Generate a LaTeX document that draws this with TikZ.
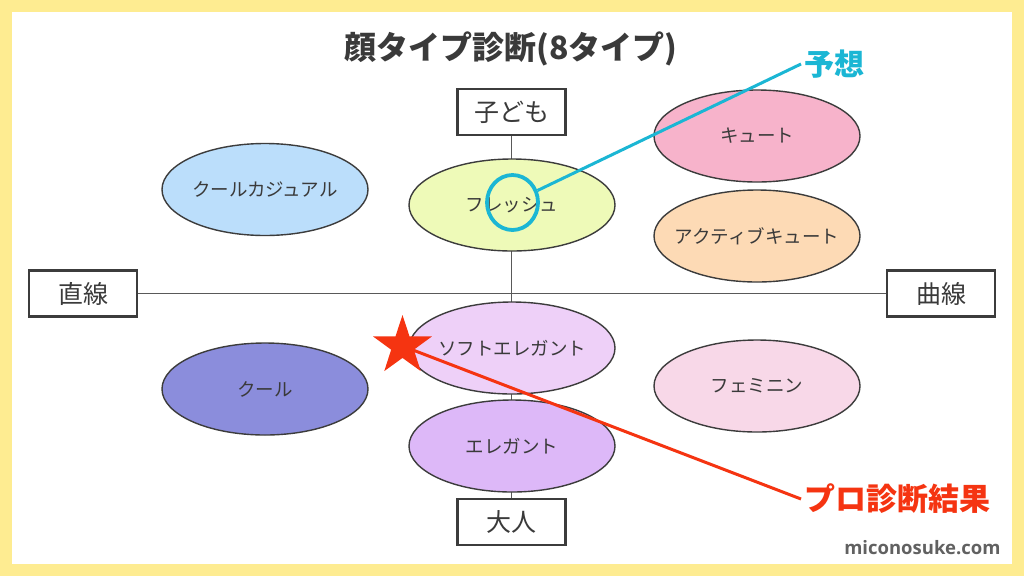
\documentclass[tikz,border=0pt]{standalone}
\usepackage{fontspec}
\setmainfont{Noto Sans CJK JP}
\newfontfamily\latinb{Open Sans}
\usetikzlibrary{shapes.geometric}
\definecolor{frameY}{HTML}{FEEC91}
\definecolor{txt}{HTML}{3A3A3A}
\definecolor{edge}{HTML}{3C3C3C}
\definecolor{cCC}{HTML}{BBDEFB}
\definecolor{cFr}{HTML}{EEFAB8}
\definecolor{cCu}{HTML}{F7B3CB}
\definecolor{cAC}{HTML}{FDDAB5}
\definecolor{cSE}{HTML}{EED0F8}
\definecolor{cCo}{HTML}{8B8DDC}
\definecolor{cFe}{HTML}{F8D8E8}
\definecolor{cEl}{HTML}{DDB8F8}
\definecolor{cyanL}{HTML}{1BB6D4}
\definecolor{redL}{HTML}{F53411}
\tikzset{
  elltext/.style={text=txt, font=\fontsize{18.5}{20}\selectfont, inner sep=0pt},
  typeell/.style={ellipse, draw=edge, line width=1.4pt, minimum width=206pt, minimum height=92pt, inner sep=0pt, label={[elltext]center:#1}},
  axisbox/.style={rectangle, draw=edge, fill=white, line width=2.5pt, minimum width=108pt, minimum height=46pt, inner sep=0pt, text=txt, font=\fontsize{25}{27}\selectfont},
  axisline/.style={draw=edge!85, line width=1.8pt}
}
\begin{document}
\begin{tikzpicture}[x=1pt,y=-1pt]
\useasboundingbox (0,0) rectangle (1024,576);
\fill[frameY] (0,0) rectangle (1024,576);
\fill[white] (12,12) rectangle (1012,564);
% title
\node[text=txt, font=\bfseries\fontsize{32}{34}\selectfont] (title) at (511,49) {顔タイプ診断(8タイプ)};
% axis boxes
\node[axisbox] (kodomo) at (511.5,112) {子ども};
\node[axisbox] (otona) at (511.5,522) {大人};
\node[axisbox] (choku) at (83,293.5) {直線};
\node[axisbox] (kyoku) at (941,293.5) {曲線};
\draw[axisline] (choku.east) -- (kyoku.west);
\draw[axisline] (kodomo.south) -- (otona.north);
% ellipses
\node[typeell={クールカジュアル}, fill=cCC] (cc) at (265,189.5) {};
\node[typeell={フレッシュ}, fill=cFr] (fr) at (512,205) {};
\node[typeell={キュート}, fill=cCu] (cu) at (757,136) {};
\node[typeell={アクティブキュート}, fill=cAC] (ac) at (757,236) {};
\node[typeell={ソフトエレガント}, fill=cSE] (se) at (512,348) {};
\node[typeell={クール}, fill=cCo] (co) at (265,389) {};
\node[typeell={フェミニン}, fill=cFe] (fe) at (757,386) {};
\node[typeell={エレガント}, fill=cEl] (el) at (512,446) {};
% prediction
\node[ellipse, draw=cyanL, line width=3.8pt, minimum width=51pt, minimum height=55pt, inner sep=0pt] (pred) at (512.5,202.5) {};
\node[text=cyanL, font=\bfseries\fontsize{30}{32}\selectfont, anchor=west] (yoso) at (801,64) {予想};
\draw[cyanL, line width=3pt] (pred) -- (yoso.west);
% pro result
\node[star, star points=5, star point ratio=2.6, fill=redL, minimum size=62pt, inner sep=0pt] (star) at (402.5,346) {};
\node[text=redL, font=\bfseries\fontsize{31}{33}\selectfont, anchor=west] (pro) at (801,499) {プロ診断結果};
\draw[redL, line width=3pt] (star.center) -- (pro.west);
% watermark
\node[text=black!62, font=\latinb\bfseries\fontsize{18.5}{20}\selectfont, anchor=east] (wm) at (1004,548) {miconosuke.com};
\end{tikzpicture}
\end{document}
